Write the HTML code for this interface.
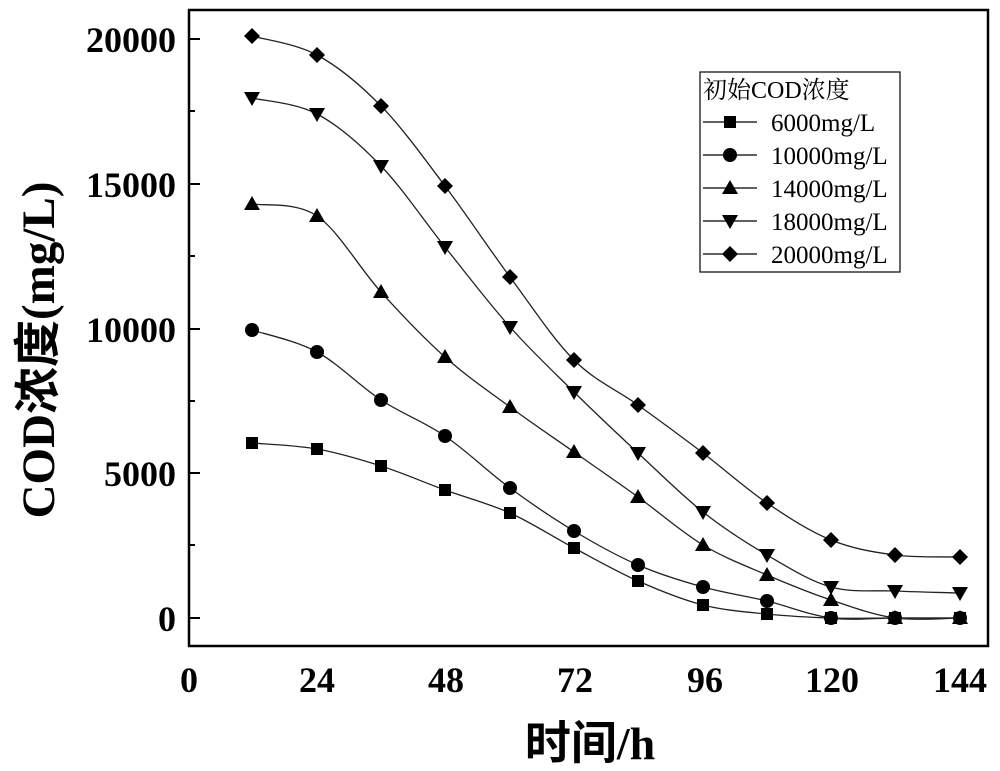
<!DOCTYPE html><html><head><meta charset="utf-8"><style>body{margin:0;background:#fff}svg{display:block}</style></head><body>
<svg id="s" width="1000" height="771" xmlns="http://www.w3.org/2000/svg" font-family="Liberation Serif, Noto Serif CJK SC, serif">
<rect x="189" y="10" width="799" height="636" fill="none" stroke="#000" stroke-width="2.5"/>
<g stroke="#000" stroke-width="2">
<line x1="189" y1="39" x2="200" y2="39"/><line x1="189" y1="111" x2="195" y2="111"/>
<line x1="189" y1="184" x2="200" y2="184"/><line x1="189" y1="256" x2="195" y2="256"/>
<line x1="189" y1="329" x2="200" y2="329"/><line x1="189" y1="401" x2="195" y2="401"/>
<line x1="189" y1="473" x2="200" y2="473"/><line x1="189" y1="545" x2="195" y2="545"/>
<line x1="189" y1="618" x2="200" y2="618"/>
</g>
<g font-size="36" font-weight="bold" text-anchor="end">
<text x="176" y="52">20000</text><text x="176" y="197">15000</text><text x="176" y="342">10000</text><text x="176" y="486">5000</text><text x="176" y="631">0</text>
</g>
<g font-size="36" font-weight="bold" text-anchor="middle">
<text x="189" y="692">0</text><text x="317" y="692">24</text><text x="446" y="692">48</text><text x="575" y="692">72</text><text x="705" y="692">96</text><text x="832" y="692">120</text><text x="960" y="692">144</text>
</g>
<text x="590" y="759" font-size="46" font-weight="bold" text-anchor="middle" font-family="Liberation Serif, Noto Sans CJK SC, sans-serif">时间/h</text>
<text transform="translate(54,350) rotate(-90)" font-size="47" font-weight="bold" text-anchor="middle" font-family="Liberation Serif, Noto Sans CJK SC, serif">COD浓度(mg/L)</text>
<rect x="700" y="72" width="200" height="200" fill="#fff" stroke="#000" stroke-width="1.2"/>
<text x="703" y="98" font-size="24" font-family="Liberation Serif, Noto Serif CJK SC, serif">初始COD浓度</text>
<g font-size="25"><text x="771" y="131">6000mg/L</text><text x="771" y="164">10000mg/L</text><text x="771" y="197">14000mg/L</text><text x="771" y="230">18000mg/L</text><text x="771" y="263">20000mg/L</text></g>
<g id="g"></g>
</svg>
<script>
var X=[252,317,381,445,510,574,638,703,767,831,895,960];
var S=[[443,449,466,490,513,548,581,605,614,618,618,618],
[330,352,400,436,488,531,565,587,601,618,618,618],
[204,216,292,357,407,452,497,545,575,600,618,618],
[98,114,166,247,327,392,453,512,555,587,591,593],
[36,55,106,186,277,360,405,453,503,540,555,557]];
function mk(t,x,y){
if(t==0)return '<rect x="'+(x-6)+'" y="'+(y-6)+'" width="12" height="12"/>';
if(t==1)return '<circle cx="'+x+'" cy="'+y+'" r="7"/>';
if(t==2)return '<polygon points="'+x+','+(y-8)+' '+(x+8)+','+(y+6)+' '+(x-8)+','+(y+6)+'"/>';
if(t==3)return '<polygon points="'+x+','+(y+8)+' '+(x+8)+','+(y-6)+' '+(x-8)+','+(y-6)+'"/>';
return '<polygon points="'+x+','+(y-8)+' '+(x+8)+','+y+' '+x+','+(y+8)+' '+(x-8)+','+y+'"/>';}
var h='';
S.forEach(function(Y,k){var d='M'+X[0]+','+Y[0];
for(var i=0;i<11;i++){var p0=i?i-1:0,p3=i<10?i+2:11;
var c1x=X[i]+(X[i+1]-X[p0])/6,c1y=Y[i]+(Y[i+1]-Y[p0])/6,c2x=X[i+1]-(X[p3]-X[i])/6,c2y=Y[i+1]-(Y[p3]-Y[i])/6;
d+=' C'+c1x+','+c1y+' '+c2x+','+c2y+' '+X[i+1]+','+Y[i+1];}
h+='<path d="'+d+'" fill="none" stroke="#222" stroke-width="1.3"/>';
for(var i=0;i<12;i++)h+=mk(k,X[i],Y[i]);
var ly=122+33*k;h+='<line x1="703" y1="'+ly+'" x2="757" y2="'+ly+'" stroke="#000" stroke-width="1.2"/>'+mk(k,730,ly);});
document.getElementById('g').innerHTML=h;
</script>
</body></html>
